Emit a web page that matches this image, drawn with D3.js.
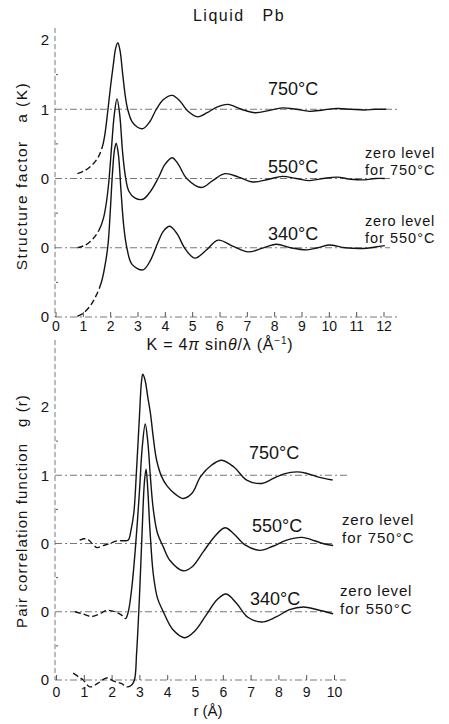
<!DOCTYPE html>
<html><head><meta charset="utf-8">
<script src="https://cdn.jsdelivr.net/npm/d3@7"></script>
<style>
body{margin:0;background:#fff}
text{font-family:"Liberation Sans",Arial,sans-serif;fill:#141414}
</style>
</head><body>
<svg id="c" width="449" height="724"></svg>
<script>
// ---------- DATA ----------
const title = "Liquid   Pb";
const temps = ["750°C", "550°C", "340°C"];
const offsets = [2, 1, 0];            // stacking offset (zero level) of each curve

// Structure factor a(K)
const sfTicks = [0,1,2,3,4,5,6,7,8,9,10,11,12];
const sfLevelLabels = ["0","0","0","1","2"];   // labels for levels 0..4
const sfK750 = [0.8,1.1,1.35,1.55,1.7,1.8,1.92,2.02,2.12,2.2,2.28,2.36,2.46,2.56,2.64,2.8,3.0,3.2,3.45,3.69,3.95,4.27,4.55,4.85,5.2,5.55,5.9,6.3,6.8,7.3,7.8,8.3,8.8,9.3,9.8,10.3,10.8,11.3,11.7,12.1];
const sfA750 = [0.07,0.12,0.2,0.3,0.44,0.62,1.0,1.35,1.66,1.88,1.96,1.85,1.5,1.17,1.0,0.82,0.74,0.72,0.82,1.0,1.14,1.2,1.12,0.97,0.89,0.95,1.03,1.07,1.0,0.95,0.98,1.02,1.0,0.97,0.99,1.01,1.0,0.99,1.0,1.0];
const sfK550 = [0.8,1.1,1.35,1.6,1.75,1.86,1.95,2.05,2.15,2.25,2.35,2.45,2.55,2.68,2.9,3.2,3.45,3.75,4.0,4.27,4.5,4.8,5.35,5.75,6.2,6.7,7.2,7.8,8.3,8.8,9.3,9.8,10.3,10.8,11.3,11.7,12.05];
const sfA550 = [0.0,0.04,0.12,0.26,0.42,0.65,0.95,1.45,1.92,2.15,1.92,1.4,1.05,0.82,0.72,0.7,0.8,1.0,1.2,1.3,1.2,1.0,0.87,0.97,1.07,1.02,0.95,0.99,1.03,1.0,0.97,1.0,1.02,0.99,0.98,1.0,1.0];
const sfK340 = [0.8,1.0,1.25,1.45,1.67,1.8,1.92,2.0,2.08,2.16,2.22,2.3,2.4,2.5,2.61,2.8,3.2,3.45,3.75,3.95,4.18,4.45,4.75,5.1,5.5,5.95,6.5,7.05,7.55,8.08,8.6,9.2,9.6,10.0,10.6,11.25,11.7,12.05];
const sfA340 = [0.01,0.05,0.15,0.28,0.49,0.72,1.04,1.5,2.05,2.42,2.51,2.35,1.8,1.3,1.0,0.76,0.68,0.8,1.08,1.24,1.31,1.2,0.98,0.85,0.96,1.11,1.02,0.94,0.99,1.05,1.0,0.97,1.0,1.04,1.0,0.99,1.01,1.03];
const sfDashEnd = [1.75, 1.6, 1.6];

// Pair correlation function g(r)
const grTicks = [0,1,2,3,4,5,6,7,8,9,10];
const grLevelLabels = ["0","0","0","1","2"];
const grR750 = [0.85,1.0,1.15,1.3,1.47,1.7,1.94,2.2,2.48,2.6,2.7,2.8,2.9,3.0,3.07,3.12,3.2,3.3,3.4,3.5,3.62,3.8,4.0,4.3,4.58,4.9,5.2,5.6,5.96,6.4,6.86,7.4,7.8,8.2,8.66,9.0,9.38,9.95];
const grG750 = [0.05,0.07,0.06,0.0,-0.06,-0.03,0.0,0.04,0.04,0.05,0.2,0.45,1.1,1.85,2.35,2.48,2.4,2.15,1.9,1.55,1.22,0.98,0.84,0.72,0.66,0.74,0.98,1.15,1.22,1.12,0.93,0.88,0.95,1.02,1.05,1.03,0.98,0.93];
const grR550 = [0.68,0.95,1.28,1.58,1.82,2.12,2.36,2.5,2.6,2.72,2.85,3.0,3.1,3.21,3.3,3.4,3.5,3.65,3.86,4.1,4.58,4.9,5.3,5.7,6.08,6.4,6.8,7.34,7.8,8.3,8.85,9.3,9.6,9.97];
const grG550 = [0.0,-0.03,-0.07,-0.03,0.02,0.0,-0.05,-0.1,0.0,0.33,0.9,1.75,2.4,2.75,2.5,1.95,1.5,1.15,0.95,0.75,0.6,0.66,0.88,1.1,1.23,1.14,0.98,0.9,0.96,1.05,1.09,1.04,1.0,0.97];
const grR340 = [0.62,0.8,0.98,1.22,1.5,1.82,2.1,2.35,2.54,2.7,2.82,2.9,3.0,3.1,3.18,3.24,3.3,3.38,3.5,3.65,3.86,4.2,4.64,5.0,5.4,5.8,6.12,6.5,6.9,7.4,7.9,8.4,8.9,9.4,9.97];
const grG340 = [0.1,0.05,0.0,-0.1,-0.05,0.03,-0.02,-0.05,-0.1,-0.08,0.0,0.4,1.2,2.2,2.9,3.09,2.8,2.2,1.55,1.2,1.0,0.74,0.62,0.72,0.95,1.18,1.26,1.12,0.92,0.85,0.92,1.03,1.07,1.03,0.97];
const grDashEnd = [2.55, 2.55, 2.75];

// ---------- DRAW ----------
const svg = d3.select("#c");
const ink = "#141414";

function panel(cfg) {
  const g = svg.append("g");
  const x = d3.scaleLinear().domain(cfg.xDom).range(cfg.xRange);
  const y = d3.scaleLinear().domain([0, 4]).range(cfg.yRange);
  const ax = cfg.axisX;

  g.append("line").attr("x1", ax).attr("x2", ax).attr("y1", cfg.axisTop).attr("y2", y(0))
    .attr("stroke", "#555").attr("stroke-width", 0.8).attr("stroke-dasharray", "5,3");
  [0.5,1.5,2.5,3.5].forEach(v => {
    g.append("line").attr("x1", ax + 1).attr("x2", ax + 3).attr("y1", y(v)).attr("y2", y(v))
      .attr("stroke", "#555").attr("stroke-width", 1);
  });
  cfg.levelEnds.forEach((xe, i) => {
    g.append("line").attr("x1", ax).attr("x2", xe).attr("y1", y(i)).attr("y2", y(i))
      .attr("stroke", "#555").attr("stroke-width", 0.8).attr("stroke-dasharray", "7,3,2,3");
  });

  const yAxis = d3.axisLeft(y).tickValues([0,1,2,3,4])
    .tickFormat((d, i) => cfg.levelLabels[i]).tickSize(0).tickPadding(6);
  const ya = g.append("g").attr("transform", `translate(${ax},0)`).call(yAxis);
  ya.select(".domain").remove();
  ya.selectAll("text").attr("font-size", 15).attr("fill", ink)
    .attr("font-family", '"Liberation Sans",Arial,sans-serif');

  const xAxis = d3.axisBottom(x).tickValues(cfg.ticks).tickSizeInner(-5).tickSizeOuter(0).tickPadding(cfg.tickPad);
  const xa = g.append("g").attr("transform", `translate(0,${y(0)})`).call(xAxis);
  xa.select(".domain").remove();
  xa.selectAll("line").attr("stroke", "#555").attr("stroke-width", 1);
  xa.selectAll("text").attr("font-size", 14).attr("fill", ink)
    .attr("font-family", '"Liberation Sans",Arial,sans-serif');

  const line = d3.line().x(d => x(d[0])).y(d => y(d[1])).curve(d3.curveCatmullRom.alpha(0.5));
  cfg.series.forEach((s, i) => {
    const pts = s.xs.map((v, j) => [v, s.ys[j] + offsets[i]]);
    const path = g.append("path").datum(pts).attr("d", line)
      .attr("fill", "none").attr("stroke", ink).attr("stroke-width", 1.4);
    const node = path.node();
    const tl = node.getTotalLength();
    const target = x(cfg.dashEnd[i]);
    let lo = 0, hi = tl;
    for (let k = 0; k < 40; k++) { const m = (lo + hi) / 2; if (node.getPointAtLength(m).x < target) lo = m; else hi = m; }
    const L = lo;
    const dashes = [];
    let acc = 0;
    while (acc + 9 < L) { dashes.push(6, 3); acc += 9; }
    dashes.push(Math.max(L - acc, 0.1), 0, tl + 10, 0);
    path.attr("stroke-dasharray", dashes.join(","));
  });
  return {x, y, g};
}

const topPanel = panel({
  xDom: [0, 12], xRange: [55.5, 383.5], yRange: [317, 40], axisX: 55, axisTop: 28,
  levelEnds: [400, 390, 390, 400], levelLabels: sfLevelLabels, ticks: sfTicks, tickPad: 4,
  series: [{xs: sfK750, ys: sfA750}, {xs: sfK550, ys: sfA550}, {xs: sfK340, ys: sfA340}],
  dashEnd: sfDashEnd
});
const botPanel = panel({
  xDom: [0, 10], xRange: [56, 334], yRange: [680, 407], axisX: 55, axisTop: 340,
  levelEnds: [346, 335, 335, 348], levelLabels: grLevelLabels, ticks: grTicks, tickPad: 7,
  series: [{xs: grR750, ys: grG750}, {xs: grR550, ys: grG550}, {xs: grR340, ys: grG340}],
  dashEnd: grDashEnd
});

svg.append("text").attr("x", 239).attr("y", 21).attr("text-anchor", "middle")
  .attr("font-size", 16).attr("letter-spacing", 1.5).style("white-space", "pre").text(title);

const tTop = [[268, 95], [268, 173], [268, 240]];
const tBot = [[249, 459], [252, 532], [250, 605]];
temps.forEach((t, i) => {
  svg.append("text").attr("x", tTop[i][0]).attr("y", tTop[i][1]).attr("font-size", 18).text(t);
  svg.append("text").attr("x", tBot[i][0]).attr("y", tBot[i][1]).attr("font-size", 18).text(t);
});

const notes = [
  {x: 365, y1: 158, y2: 175, t: temps[0], fs: 14.5},
  {x: 365, y1: 226, y2: 243, t: temps[1], fs: 14.5},
  {x: 342, y1: 525, y2: 543, t: temps[0], fs: 15},
  {x: 340, y1: 596, y2: 614, t: temps[1], fs: 15}
];
notes.forEach(n => {
  svg.append("text").attr("x", n.x).attr("y", n.y1).attr("font-size", n.fs).attr("letter-spacing", 0.8).text("zero level");
  svg.append("text").attr("x", n.x).attr("y", n.y2).attr("font-size", n.fs).attr("letter-spacing", 1).text("for " + n.t);
});

svg.append("text").attr("transform", "translate(27,176) rotate(-90)").attr("text-anchor", "middle")
  .attr("font-size", 15.5).attr("letter-spacing", 1.5).style("white-space", "pre")
  .text("Structure factor   a (K)");
svg.append("text").attr("transform", "translate(27,511) rotate(-90)").attr("text-anchor", "middle")
  .attr("font-size", 15).attr("letter-spacing", 1.1).style("white-space", "pre")
  .text("Pair correlation function   g (r)");

const xl = svg.append("text").attr("x", 220).attr("y", 350).attr("text-anchor", "middle")
  .attr("font-size", 16).attr("letter-spacing", 0.8);
xl.append("tspan").text("K = 4");
xl.append("tspan").attr("font-style", "italic").text("π");
xl.append("tspan").text(" sin");
xl.append("tspan").attr("font-style", "italic").text("θ");
xl.append("tspan").text("/λ (Å");
xl.append("tspan").attr("dy", -6).attr("font-size", 10).text("−1");
xl.append("tspan").attr("dy", 6).text(")");

svg.append("text").attr("x", 208).attr("y", 716).attr("text-anchor", "middle").attr("font-size", 15).text("r (Å)");
</script>
</body></html>
